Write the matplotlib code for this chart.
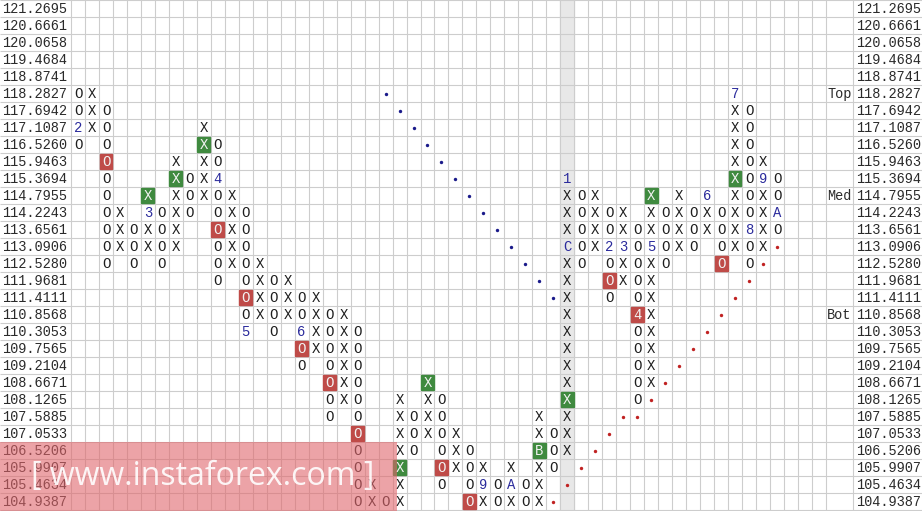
import numpy as np
import matplotlib.pyplot as plt
from matplotlib.patches import Rectangle

# --- DATA ---
prices = ['121.2695', '120.6661', '120.0658', '119.4684', '118.8741', '118.2827',
          '117.6942', '117.1087', '116.5260', '115.9463', '115.3694', '114.7955',
          '114.2243', '113.6561', '113.0906', '112.5280', '111.9681', '111.4111',
          '110.8568', '110.3053', '109.7565', '109.2104', '108.6671', '108.1265',
          '107.5885', '107.0533', '106.5206', '105.9907', '105.4634', '104.9387']

# one entry per column: kind, top row, bottom row (row 0 = top price)
col_kind = "OXOXOXOXOXOXOXOXOXOXOXOXOXOXOXOXOXOXOXOXOXOXOXOXOXO"
col_top = [5, 5, 6, 12, 13, 11, 12, 9, 10, 7, 8, 11, 12, 15, 16, 16, 17, 17, 18, 18,
           19, 28, 29, 23, 24, 22, 23, 25, 26, 27, 28, 27, 28, 24, 25, 10, 11, 11, 12, 12,
           13, 11, 12, 11, 12, 11, 12, 5, 6, 9, 10]
col_bottom = [8, 7, 15, 14, 15, 14, 15, 14, 12, 11, 16, 15, 19, 18, 19, 18, 21, 20, 24, 23,
              29, 29, 29, 29, 26, 25, 28, 27, 29, 29, 29, 29, 29, 29, 27, 26, 15, 14, 17, 16,
              23, 22, 15, 14, 14, 13, 15, 14, 15, 14, 13]

# month markers (col, row, label)
months = [(0, 7, '2'), (5, 12, '3'), (10, 10, '4'), (12, 19, '5'), (16, 19, '6'),
          (29, 28, '9'), (31, 28, 'A'), (33, 26, 'B'), (35, 10, '1'), (35, 14, 'C'),
          (38, 14, '2'), (39, 14, '3'), (40, 18, '4'), (41, 14, '5'), (45, 11, '6'),
          (47, 5, '7'), (48, 13, '8'), (49, 10, '9'), (50, 12, 'A')]

green_boxes = [(5, 11), (7, 10), (9, 8), (23, 27), (25, 22), (33, 26), (35, 23), (41, 11), (47, 10)]
red_boxes = [(2, 9), (10, 13), (12, 17), (16, 20), (18, 22), (20, 25), (26, 27), (28, 29),
             (38, 16), (40, 18), (46, 15)]

blue_dot_cols = [22, 23, 24, 25, 26, 27, 28, 29, 30, 31, 32, 33, 34]
blue_dot_rows = [5, 6, 7, 8, 9, 10, 11, 12, 13, 14, 15, 16, 17]
red_dot_cols = [34, 35, 36, 37, 38, 39, 40, 41, 42, 43, 44, 45, 46, 47, 48, 49, 50]
red_dot_rows = [29, 28, 27, 26, 25, 24, 24, 23, 22, 21, 20, 19, 18, 17, 16, 15, 14]

level_labels = {5: 'Top', 11: 'Med', 18: 'Bot'}
current_col = 35

# --- LAYOUT ---
W = 13.98   # px per column
H = 17.0    # px per row
LEFT = 71   # left label strip, px
n_rows = len(prices)
n_cols = 54
edge = (853 - LEFT) / W

fig = plt.figure(figsize=(9.22, 5.11), dpi=100)
ax = fig.add_axes([0, 0, 1, 1])
x0, x1 = -LEFT / W, (922 - LEFT) / W
ax.set_xlim(x0, x1)
ax.set_ylim(511 / H, 0)
ax.axis('off')

mono = 'Liberation Mono'
ink = '#1e1e1e'
label_ink = '#2a2a2a'
blue = '#2b2b9c'
grid_c = '#cdcdcd'

# highlighted current column
ax.add_patch(Rectangle((current_col, 0), 1, n_rows, color='#e8e8e8', zorder=0))

# grid
ax.hlines(np.arange(n_rows + 1), x0, x1, color=grid_c, lw=0.8, zorder=1)
ax.vlines(list(np.arange(n_cols + 1)) + [edge], 0, n_rows, color=grid_c, lw=0.8, zorder=1)

# price labels both sides
for r, p in enumerate(prices):
    ax.text(x0 + 2 / W, r + 0.5, p, family=mono, fontsize=9.8, color=label_ink,
            ha='left', va='center')
    ax.text(edge + 3 / W, r + 0.5, p, family=mono, fontsize=9.8, color=label_ink,
            ha='left', va='center')
for r, t in level_labels.items():
    ax.text((n_cols + edge) / 2, r + 0.5, t, family=mono, fontsize=9.8, color=label_ink,
            ha='center', va='center')

month_map = {(c, r): m for c, r, m in months}
green_set = set(green_boxes)
red_set = set(red_boxes)

for c, kind in enumerate(col_kind):
    for r in range(col_top[c], col_bottom[c] + 1):
        label = month_map.get((c, r), kind)
        if (c, r) in green_set or (c, r) in red_set:
            fc = '#3f8a3f' if (c, r) in green_set else '#bf4b48'
            ax.add_patch(Rectangle((c + 0.04, r + 0.08), 0.92, 0.84, color=fc, zorder=2))
            col = '#f2f2f2'
        else:
            col = blue if (c, r) in month_map else ink
        ax.text(c + 0.5, r + 0.55, label, family=mono, fontsize=10, color=col,
                ha='center', va='center', zorder=3)

ax.scatter(np.array(blue_dot_cols) + 0.5, np.array(blue_dot_rows) + 0.5,
           s=6, color='#1a1a8a', zorder=3, linewidths=0)
ax.scatter(np.array(red_dot_cols) + 0.5, np.array(red_dot_rows) + 0.5,
           s=6, color='#c02222', zorder=3, linewidths=0)

# watermark
ax.add_patch(Rectangle((x0, 26), 397 / W, 511 / H - 26, color='#e0666c',
                       alpha=0.6, zorder=4, lw=0))
ax.text(x0 + 203 / W, 28.05, '[ www.instaforex.com ]', family='Open Sans',
        fontsize=23, color='white', alpha=0.9, ha='center', va='center', zorder=5)

fig.savefig('out.png', dpi=100)
